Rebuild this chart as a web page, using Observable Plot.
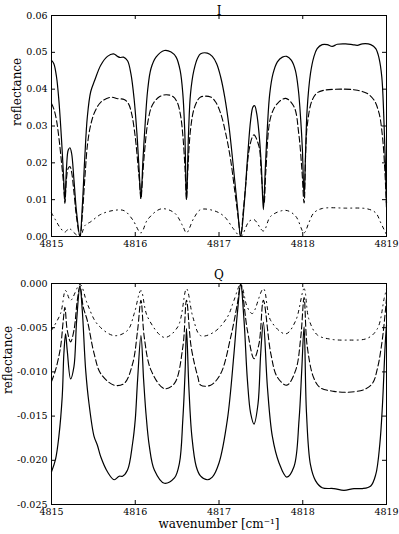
<!DOCTYPE html>
<html>
<head>
<meta charset="utf-8">
<script src="https://cdn.jsdelivr.net/npm/d3@7"></script>
<script src="https://cdn.jsdelivr.net/npm/@observablehq/plot@0.6"></script>
<style>
  html, body { margin: 0; padding: 0; background: #fff; }
  #chart { width: 399px; }
  #chart svg { display: block; }
</style>
</head>
<body>
<div id="chart"></div>
<script>
// ---------- data ----------
const xTicks = [4815, 4816, 4817, 4818, 4819];
const xTickLabels = ["4815", "4816", "4817", "4818", "4819"];
const yTicksI = [0, 0.01, 0.02, 0.03, 0.04, 0.05, 0.06];
const yTickLabelsI = ["0.00", "0.01", "0.02", "0.03", "0.04", "0.05", "0.06"];
const yTicksQ = [-0.025, -0.02, -0.015, -0.01, -0.005, 0];
const yTickLabelsQ = ["-0.025", "-0.020", "-0.015", "-0.010", "-0.005", "0.000"];
const titleI = "I";
const titleQ = "Q";
const yTitle = "reflectance";
const xTitle = "wavenumber [cm⁻¹]";

// I panel, solid
const iSolidX = [4815.000,4815.028,4815.060,4815.088,4815.120,4815.144,4815.160,4815.180,4815.200,4815.220,4815.240,4815.268,4815.300,4815.340,4815.368,4815.396,4815.428,4815.468,4815.516,4815.588,4815.668,4815.740,4815.788,4815.820,4815.860,4815.908,4815.948,4815.988,4816.020,4816.044,4816.068,4816.092,4816.116,4816.148,4816.188,4816.248,4816.348,4816.428,4816.488,4816.536,4816.568,4816.592,4816.612,4816.636,4816.660,4816.700,4816.748,4816.781,4816.861,4816.920,4816.972,4817.020,4817.068,4817.120,4817.171,4817.219,4817.259,4817.299,4817.339,4817.378,4817.406,4817.426,4817.450,4817.478,4817.506,4817.530,4817.554,4817.578,4817.606,4817.645,4817.697,4817.757,4817.809,4817.865,4817.912,4817.948,4817.976,4817.996,4818.016,4818.034,4818.052,4818.092,4818.132,4818.172,4818.232,4818.292,4818.352,4818.412,4818.512,4818.592,4818.652,4818.712,4818.812,4818.872,4818.912,4818.944,4818.972,4819.000];
const iSolidY = [0.0478,0.0469,0.0433,0.0370,0.0262,0.0163,0.0095,0.0190,0.0235,0.0241,0.0226,0.0154,0.0064,0.0000,0.0082,0.0208,0.0325,0.0393,0.0424,0.0465,0.0489,0.0496,0.0489,0.0486,0.0487,0.0477,0.0442,0.0370,0.0280,0.0190,0.0105,0.0208,0.0298,0.0397,0.0456,0.0487,0.0505,0.0501,0.0487,0.0451,0.0388,0.0280,0.0100,0.0280,0.0388,0.0451,0.0486,0.0496,0.0498,0.0489,0.0469,0.0433,0.0379,0.0298,0.0190,0.0082,0.0000,0.0082,0.0208,0.0316,0.0352,0.0355,0.0334,0.0280,0.0190,0.0073,0.0190,0.0298,0.0388,0.0442,0.0474,0.0487,0.0489,0.0478,0.0451,0.0397,0.0316,0.0235,0.0109,0.0230,0.0343,0.0442,0.0487,0.0510,0.0521,0.0521,0.0516,0.0522,0.0523,0.0521,0.0519,0.0523,0.0521,0.0510,0.0483,0.0433,0.0298,0.0091];

// I panel, dashed
const iDashX = [4815.000,4815.030,4815.060,4815.090,4815.120,4815.145,4815.160,4815.180,4815.200,4815.220,4815.240,4815.268,4815.300,4815.340,4815.370,4815.400,4815.430,4815.470,4815.520,4815.590,4815.708,4815.790,4815.868,4815.920,4815.960,4816.000,4816.030,4816.050,4816.068,4816.090,4816.115,4816.150,4816.200,4816.280,4816.368,4816.450,4816.500,4816.540,4816.570,4816.595,4816.612,4816.630,4816.660,4816.700,4816.750,4816.781,4816.900,4816.960,4817.020,4817.080,4817.139,4817.190,4817.230,4817.259,4817.290,4817.319,4817.359,4817.398,4817.418,4817.478,4817.505,4817.538,4817.560,4817.618,4817.697,4817.797,4817.896,4817.952,4817.990,4818.016,4818.052,4818.112,4818.172,4818.252,4818.492,4818.652,4818.772,4818.852,4818.912,4818.952,4818.980,4819.000];
const iDashY = [0.0361,0.0345,0.0315,0.0265,0.0200,0.0140,0.0090,0.0160,0.0185,0.0190,0.0175,0.0120,0.0050,0.0000,0.0065,0.0165,0.0250,0.0305,0.0340,0.0365,0.0378,0.0374,0.0372,0.0360,0.0330,0.0270,0.0200,0.0150,0.0102,0.0170,0.0240,0.0310,0.0355,0.0378,0.0385,0.0380,0.0365,0.0330,0.0270,0.0180,0.0100,0.0190,0.0290,0.0345,0.0372,0.0379,0.0379,0.0365,0.0334,0.0280,0.0208,0.0120,0.0050,0.0000,0.0070,0.0140,0.0235,0.0270,0.0276,0.0244,0.0170,0.0090,0.0180,0.0325,0.0361,0.0375,0.0352,0.0280,0.0180,0.0091,0.0298,0.0370,0.0390,0.0397,0.0400,0.0397,0.0388,0.0370,0.0334,0.0271,0.0180,0.0073];

// I panel, dash-dot
const iDotX = [4815.000,4815.048,4815.100,4815.160,4815.210,4815.260,4815.340,4815.400,4815.468,4815.588,4815.748,4815.868,4815.968,4816.068,4816.148,4816.308,4816.468,4816.568,4816.612,4816.700,4816.781,4816.940,4817.060,4817.179,4817.259,4817.359,4817.418,4817.530,4817.618,4817.797,4817.916,4818.016,4818.072,4818.132,4818.232,4818.512,4818.772,4818.872,4818.932,4819.000];
const iDotY = [0.0064,0.0045,0.0025,0.0012,0.0022,0.0012,0.0000,0.0030,0.0040,0.0060,0.0071,0.0070,0.0046,0.0010,0.0046,0.0075,0.0064,0.0028,0.0010,0.0050,0.0073,0.0070,0.0055,0.0019,0.0000,0.0041,0.0046,0.0015,0.0055,0.0071,0.0055,0.0010,0.0037,0.0064,0.0076,0.0077,0.0075,0.0064,0.0037,0.0005];

// Q panel, solid
const qSolidX = [4815.000,4815.048,4815.088,4815.128,4815.148,4815.168,4815.188,4815.228,4815.268,4815.300,4815.340,4815.368,4815.408,4815.448,4815.508,4815.548,4815.588,4815.668,4815.748,4815.808,4815.848,4815.908,4815.968,4816.000,4816.028,4816.068,4816.100,4816.128,4816.168,4816.228,4816.348,4816.468,4816.528,4816.568,4816.596,4816.612,4816.640,4816.676,4816.728,4816.781,4816.861,4816.920,4817.000,4817.100,4817.179,4817.219,4817.259,4817.299,4817.339,4817.378,4817.418,4817.466,4817.498,4817.530,4817.578,4817.637,4817.717,4817.809,4817.896,4817.956,4817.988,4818.016,4818.044,4818.092,4818.152,4818.232,4818.372,4818.492,4818.612,4818.712,4818.812,4818.872,4818.920,4818.952,4818.984,4819.000];
const qSolidY = [-0.0213,-0.0199,-0.0173,-0.0128,-0.0079,-0.0057,-0.0076,-0.0108,-0.0094,-0.0042,-0.0003,-0.0031,-0.0098,-0.0136,-0.0173,-0.0183,-0.0196,-0.0213,-0.0222,-0.0218,-0.0218,-0.0211,-0.0181,-0.0154,-0.0109,-0.0059,-0.0109,-0.0147,-0.0184,-0.0211,-0.0226,-0.0220,-0.0203,-0.0154,-0.0098,-0.0051,-0.0117,-0.0173,-0.0207,-0.0218,-0.0222,-0.0219,-0.0203,-0.0154,-0.0079,-0.0034,-0.0001,-0.0042,-0.0109,-0.0147,-0.0159,-0.0136,-0.0079,-0.0044,-0.0117,-0.0173,-0.0203,-0.0219,-0.0207,-0.0154,-0.0098,-0.0049,-0.0145,-0.0205,-0.0223,-0.0231,-0.0232,-0.0234,-0.0232,-0.0232,-0.0229,-0.0216,-0.0182,-0.0137,-0.0070,-0.0047];

// Q panel, dashed
const qDashX = [4815.000,4815.048,4815.108,4815.140,4815.160,4815.188,4815.228,4815.268,4815.308,4815.340,4815.380,4815.428,4815.508,4815.588,4815.748,4815.868,4815.968,4816.028,4816.068,4816.108,4816.188,4816.348,4816.468,4816.568,4816.612,4816.668,4816.748,4816.781,4816.900,4817.020,4817.139,4817.219,4817.259,4817.339,4817.418,4817.478,4817.530,4817.618,4817.697,4817.809,4817.916,4817.976,4818.016,4818.052,4818.132,4818.212,4818.372,4818.532,4818.732,4818.832,4818.892,4818.952,4819.000];
const qDashY = [-0.0111,-0.0098,-0.0072,-0.0042,-0.0027,-0.0053,-0.0066,-0.0053,-0.0019,-0.0003,-0.0027,-0.0042,-0.0079,-0.0102,-0.0115,-0.0113,-0.0091,-0.0053,-0.0019,-0.0061,-0.0098,-0.0119,-0.0113,-0.0072,-0.0019,-0.0072,-0.0106,-0.0115,-0.0115,-0.0102,-0.0061,-0.0023,-0.0001,-0.0053,-0.0085,-0.0068,-0.0019,-0.0079,-0.0106,-0.0115,-0.0098,-0.0061,-0.0016,-0.0070,-0.0107,-0.0118,-0.0122,-0.0123,-0.0120,-0.0113,-0.0096,-0.0062,-0.0017];

// Q panel, dash-dot
const qDotX = [4815.000,4815.108,4815.168,4815.228,4815.340,4815.428,4815.548,4815.748,4815.908,4815.988,4816.068,4816.148,4816.348,4816.508,4816.612,4816.688,4816.781,4816.940,4817.100,4817.179,4817.259,4817.339,4817.398,4817.530,4817.618,4817.797,4817.916,4818.016,4818.072,4818.172,4818.332,4818.532,4818.772,4818.892,4818.972,4819.000];
const qDotY = [-0.0053,-0.0034,-0.0008,-0.0019,-0.0001,-0.0023,-0.0046,-0.0059,-0.0053,-0.0034,-0.0008,-0.0038,-0.0061,-0.0049,-0.0006,-0.0038,-0.0059,-0.0055,-0.0038,-0.0019,-0.0001,-0.0027,-0.0034,-0.0006,-0.0042,-0.0057,-0.0042,-0.0006,-0.0040,-0.0058,-0.0063,-0.0064,-0.0062,-0.0051,-0.0017,-0.0006];

// ---------- drawing ----------
const rows = (xs, ys) => xs.map((x, i) => ({x, y: ys[i]}));
const W = 399, ML = 51, MR = 13, PH = 221, PW = W - ML - MR;
const SERIF = "DejaVu Serif";
const xLabelOf = d => xTickLabels[xTicks.indexOf(d)];

function panel({title, titleDy, yTitleDx, series, yDomain, yTicks, yLabels, marginTop, marginBottom, xLabel}) {
  const tickLen = 4;
  const marks = [
    ...series.map(s => Plot.line(rows(s.x, s.y), {x: "x", y: "y", stroke: "black", strokeWidth: s.width, strokeDasharray: s.dash, curve: "catmull-rom"})),
    Plot.frame({stroke: "black", strokeWidth: 1}),
    Plot.tickX(xTicks, {x: d => d, insetTop: PH - tickLen, stroke: "black"}),
    Plot.tickX(xTicks, {x: d => d, insetBottom: PH - tickLen, stroke: "black"}),
    Plot.tickY(yTicks, {y: d => d, insetRight: PW - tickLen, stroke: "black"}),
    Plot.tickY(yTicks, {y: d => d, insetLeft: PW - tickLen, stroke: "black"}),
    Plot.axisX(xTicks, {tickSize: 0, tickPadding: 4, tickFormat: xLabelOf, fontSize: 9.5, label: null}),
    Plot.axisY(yTicks, {tickSize: 0, tickPadding: 4, tickFormat: d => yLabels[yTicks.indexOf(d)], fontSize: 9.5, label: null}),
    Plot.text([yTitle], {frameAnchor: "left", rotate: -90, dx: yTitleDx, fontSize: 12, fill: "black"}),
    Plot.text([title], {frameAnchor: "top", dy: titleDy, fontSize: 12, fill: "black"})
  ];
  if (xLabel) marks.push(Plot.text([xLabel], {frameAnchor: "bottom", dy: 23, fontSize: 12, fill: "black"}));
  return Plot.plot({
    width: W, height: marginTop + PH + marginBottom,
    marginLeft: ML, marginRight: MR, marginTop, marginBottom,
    style: {fontFamily: SERIF, fontSize: "12px", color: "black", background: "white", overflow: "visible"},
    x: {domain: [xTicks[0], xTicks[xTicks.length - 1]]},
    y: {domain: yDomain},
    marks
  });
}

const panelI = panel({
  title: titleI, titleDy: -9, yTitleDx: -34,
  series: [
    {x: iSolidX, y: iSolidY, dash: null, width: 1.2},
    {x: iDashX, y: iDashY, dash: "6,3", width: 1.1},
    {x: iDotX, y: iDotY, dash: "3,4,1,4", width: 1}
  ],
  yDomain: [yTicksI[0], yTicksI[yTicksI.length - 1]],
  yTicks: yTicksI, yLabels: yTickLabelsI,
  marginTop: 15, marginBottom: 26, xLabel: null
});
const panelQ = panel({
  title: titleQ, titleDy: -13, yTitleDx: -43,
  series: [
    {x: qSolidX, y: qSolidY, dash: null, width: 1.2},
    {x: qDashX, y: qDashY, dash: "6,3", width: 1.1},
    {x: qDotX, y: qDotY, dash: "3,4,1,4", width: 1}
  ],
  yDomain: [yTicksQ[0], yTicksQ[yTicksQ.length - 1]],
  yTicks: yTicksQ, yLabels: yTickLabelsQ,
  marginTop: 21, marginBottom: 30, xLabel: xTitle
});
document.getElementById("chart").append(panelI, panelQ);
</script>
</body>
</html>
